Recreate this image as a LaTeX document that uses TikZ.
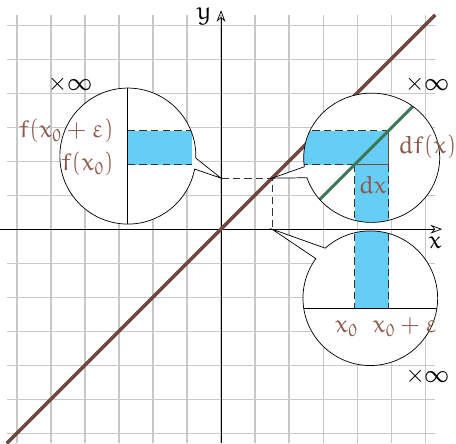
\documentclass[tikz,border=0pt]{standalone}
\usepackage{euler}
\usetikzlibrary{arrows.meta}
\definecolor{linebrown}{RGB}{112,74,64}
\definecolor{txtbrown}{RGB}{140,90,78}
\definecolor{lblue}{RGB}{102,206,245}
\definecolor{lgreen}{RGB}{62,120,90}
\definecolor{gridgray}{RGB}{200,200,200}
\begin{document}
\begin{tikzpicture}[
  every node/.style={font=\fontsize{21}{25}\selectfont},
  lbl/.style={text=txtbrown, inner sep=0pt},
  inf/.style={inner sep=0pt},
  magline/.style={line width=0.6pt, line join=miter},
  dashedge/.style={dash pattern=on 2.2mm off 1.2mm, line width=0.5pt, black!80},
  axisline/.style={line width=0.6pt, -{Stealth[open,length=3.4mm,width=2.6mm]}},
  mainline/.style={linebrown, line width=3pt},
  tangent/.style={lgreen, line width=2.5pt},
  corner/.style={linebrown, line width=1.1pt},
]
\useasboundingbox (-6.5,-6.29) rectangle (6.91,6.74);
\draw[gridgray, line width=0.9pt] (-6.3,-6.3) grid (6.3,6.3);

\coordinate (xs) at (-6.5,0);
\coordinate (xe) at (6.5,0);
\coordinate (ys) at (0,-6.3);
\coordinate (ye) at (0,6.44);
\coordinate (ls) at (-6.3,-6.3);
\coordinate (le) at (6.3,6.3);
\coordinate (p) at (1.5,1.5);
\coordinate (py) at (0,1.5);
\coordinate (px) at (1.5,0);
\coordinate (L) at (-2.74,2.15);
\coordinate (R) at (4.43,2.1);
\coordinate (B) at (4.39,-2.03);

\draw[axisline] (xs) -- (xe);
\draw[axisline] (ys) -- (ye);
\node (ylab) at (-0.5,6.26) {$y$};
\node (xlab) at (6.3,-0.41) {$x$};

\draw[mainline] (ls) -- (le);
\draw[dashedge] (py) -- (p) -- (px);

% left magnifier
\fill[white] (L) ++(-1.7:2) arc[start angle=-1.7, end angle=349, radius=2] -- (py) -- cycle;
\begin{scope}
  \clip (L) circle (2);
  \fill[lblue] (-2.74,1.9) rectangle (-0.85,2.9);
  \draw[dashedge] (-2.74,2.9) -- (-0.85,2.9);
  \draw[dashedge] (-2.74,1.9) -- (-0.85,1.9);
  \draw[line width=0.6pt] (-2.74,0) -- (-2.74,4.3);
\end{scope}
\draw[magline] (L) ++(-1.7:2) arc[start angle=-1.7, end angle=349, radius=2] -- (py) -- cycle;
\node[lbl, anchor=east] (fe) at (-3.15,2.88) {$f(x_0+\varepsilon)$};
\node[lbl, anchor=east] (f0) at (-3.15,1.91) {$f(x_0)$};
\node[inf] (infl) at (-4.44,4.27) {$\times\infty$};

% right magnifier
\fill[white] (R) ++(198:2 and 1.9) arc[start angle=198, end angle=548, x radius=2, y radius=1.9] -- (p) -- cycle;
\begin{scope}
  \clip (R) ellipse (2 and 1.9);
  \fill[lblue] (2,1.9) rectangle (4.93,2.9);
  \fill[lblue] (3.93,-0.5) rectangle (4.93,1.9);
  \draw[dashedge] (2,2.9) -- (4.93,2.9);
  \draw[dashedge] (2,1.9) -- (3.93,1.9);
  \draw[dashedge] (3.93,1.9) -- (3.93,-0.5);
  \draw[dashedge] (4.93,1.9) -- (4.93,-0.5);
  \draw[corner] (3.93,1.9) -- (4.93,1.9) -- (4.93,2.9);
  \draw[tangent] (1.5,-0.53) -- (7,4.97);
\end{scope}
\draw[magline] (R) ++(198:2 and 1.9) arc[start angle=198, end angle=548, x radius=2, y radius=1.9] -- (p) -- cycle;
\node[lbl, anchor=west] (df) at (5.2,2.4) {$df(x)$};
\node[lbl] (dx) at (4.46,1.3) {$dx$};
\node[inf] (infr) at (6.07,4.27) {$\times\infty$};

% bottom magnifier
\fill[white] (B) ++(144:1.98) arc[start angle=144, end angle=492, radius=1.98] -- (px) -- cycle;
\begin{scope}
  \clip (B) circle (1.98);
  \fill[lblue] (3.93,-2.32) rectangle (4.93,0.2);
  \draw[dashedge] (3.93,0.2) -- (3.93,-2.32);
  \draw[dashedge] (4.93,0.2) -- (4.93,-2.32);
  \draw[line width=0.6pt] (2,-2.32) -- (7,-2.32);
\end{scope}
\draw[magline] (B) ++(144:1.98) arc[start angle=144, end angle=492, radius=1.98] -- (px) -- cycle;
\node[lbl, anchor=base] (x0) at (3.69,-3.05) {$x_0$};
\node[lbl, anchor=base] (x0e) at (5.41,-3.05) {$x_0+\varepsilon$};
\node[inf] (infb) at (6.08,-4.34) {$\times\infty$};
\end{tikzpicture}
\end{document}
